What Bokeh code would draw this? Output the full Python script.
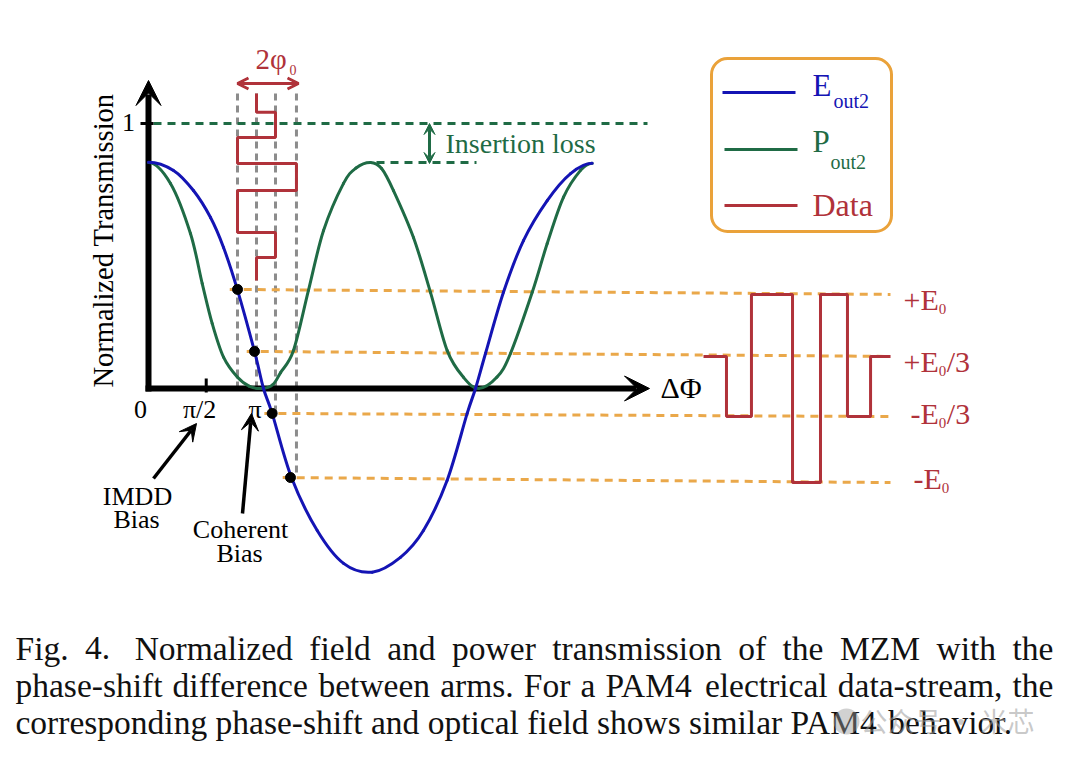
import numpy as np
from bokeh.plotting import figure
from bokeh.models import Arrow, VeeHead, OpenHead, BoxAnnotation, Range1d
from bokeh.embed import file_html
from bokeh.resources import INLINE
from bokeh.core.properties import value

# ---------------- data ----------------
# normalized field E_out2 vs phase-shift difference (units of pi)
e_phase = [0.0, 0.225, 0.405, 0.559, 0.676, 0.80, 0.955, 1.036, 1.114, 1.288, 1.52, 1.757,
           2.015, 2.27, 2.477, 2.69, 2.871, 2.946, 3.036, 3.198, 3.378, 3.592, 3.802, 3.997]
e_field = [0.854, 0.823, 0.747, 0.645, 0.532, 0.374, 0.140, 0.0, -0.094, -0.336, -0.536, -0.660,
           -0.693, -0.637, -0.536, -0.347, -0.094, 0.0, 0.132, 0.363, 0.558, 0.709, 0.811, 0.850]
# normalized power P_out2
p_phase = [0.0, 0.198, 0.378, 0.484, 0.574, 0.676, 0.80, 0.91, 1.02, 1.12, 1.19, 1.306, 1.441,
           1.577, 1.757, 1.87, 2.0, 2.10, 2.207, 2.387, 2.541, 2.691, 2.838, 2.973, 3.14, 3.261,
           3.457, 3.592, 3.739, 3.892, 3.997]
p_power = [0.853, 0.774, 0.585, 0.396, 0.245, 0.118, 0.043, 0.008, 0.0, 0.015, 0.060, 0.143, 0.370,
           0.596, 0.774, 0.832, 0.853, 0.830, 0.747, 0.570, 0.362, 0.143, 0.042, 0.0, 0.043, 0.132,
           0.363, 0.547, 0.722, 0.823, 0.850]
max_transmission = 1.0
insertion_peak = 0.853

# PAM4 symbols (in units of E0)
data_levels = [1/3, -1/3, 1, -1, 1, -1/3, 1/3]
level_values = [1, 1/3, -1/3, -1]
level_names = [("+E", "0", ""), ("+E", "0", "/3"), ("-E", "0", "/3"), ("-E", "0", "")]
# phase shift driven by each level (units of pi) and field obtained on E_out2
level_phase = [0.802, 0.973, 1.144, 1.333]
dot_phase = [0.802, 0.955, 1.114, 1.279]
dot_field = [0.374, 0.140, -0.094, -0.336]
# optical field levels of the output data
out_field = [0.355, 0.121, -0.106, -0.355]
# symbol boundaries: drive signal (drawn along the vertical), output (along the horizontal)
drive_time = [1.113, 1.042, 0.947, 0.849, 0.747, 0.589, 0.494, 0.408]
out_time = [5.0, 5.207, 5.432, 5.802, 6.054, 6.297, 6.505, 6.685]

tick_phase = [0.0, 0.52, 1.0]
tick_labels = ["0", "π/2", "π"]

caption_lines = [
    "Fig. 4.  Normalized field and power transmission of the MZM with the",
    "phase-shift difference between arms. For a PAM4 electrical data-stream, the",
    "corresponding phase-shift and optical field shows similar PAM4 behavior.",
]

# ---------------- styling ----------------
BLUE = "#1414b4"
GREEN = "#1f6b45"
RED = "#b0323a"
ORANGE = "#eaa84a"
GRAY = "#8c8c8c"
BOX = "#eaa23a"
SERIF = value("Liberation Serif")

W, H = 1080, 766


def X(px):
    return (px - 148.0) / 111.0


def Y(py):
    return (388.0 - py) / 265.0


p = figure(width=W, height=H, x_range=Range1d(X(0), X(W)), y_range=Range1d(Y(H), Y(0)),
           output_backend="svg", toolbar_location=None, min_border=0,
           x_axis_location=None, y_axis_location=None)
p.grid.visible = False
p.outline_line_color = None
p.background_fill_color = "white"


def smooth(xs, ys, color, width):
    pts = np.column_stack([xs, ys]).astype(float)
    n = len(pts)
    first = np.array([2 * pts[0, 0] - pts[1, 0], pts[1, 1]])
    last = np.array([2 * pts[-1, 0] - pts[-2, 0], pts[-2, 1]])
    ext = np.vstack([first, pts, last])
    x0, y0, x1, y1, cx0, cy0, cx1, cy1 = ([] for _ in range(8))
    for i in range(n - 1):
        q0, q1, q2, q3 = ext[i], ext[i + 1], ext[i + 2], ext[i + 3]
        c0 = q1 + (q2 - q0) / 6
        c1 = q2 - (q3 - q1) / 6
        x0.append(q1[0]); y0.append(q1[1]); x1.append(q2[0]); y1.append(q2[1])
        cx0.append(c0[0]); cy0.append(c0[1]); cx1.append(c1[0]); cy1.append(c1[1])
    p.bezier(x0=x0, y0=y0, x1=x1, y1=y1, cx0=cx0, cy0=cy0, cx1=cx1, cy1=cy1,
             line_color=color, line_width=width, line_cap="round")


def txt(px, base, s, size, color="black", align="left", font=SERIF, alpha=1.0):
    """px: x in reference pixels; base: text baseline in reference pixels."""
    p.text(x=[X(px)], y=[Y(base - 0.34 * size)], text=[s], text_font=font,
           text_font_size=value(f"{size}px"), text_color=color, text_align=align,
           text_baseline="middle", text_alpha=alpha)


# ---- gray dashed vertical guides from the drive waveform to the curve ----
for k, ph in enumerate(level_phase):
    bottom = min(0.0, dot_field[k])
    p.line([ph, ph], [drive_time[0], bottom], line_color=GRAY, line_width=3, line_dash="7 5")

# ---- orange dashed lines from curve points to output levels ----
for k in range(4):
    p.line([dot_phase[k] - 0.07, X(890)], [dot_field[k], out_field[k]],
           line_color=ORANGE, line_width=3, line_dash="8 6")

# ---- insertion loss dashed lines ----
p.line([X(153), X(647)], [max_transmission] * 2, line_color=GREEN, line_width=3, line_dash="8 6")
p.line([X(376), X(476)], [insertion_peak] * 2, line_color=GREEN, line_width=3, line_dash="8 6")

# ---- axes (shafts) ----
p.line([X(148), X(148)], [Y(391), Y(94)], line_color="black", line_width=6)
p.line([X(145), X(636)], [0, 0], line_color="black", line_width=6)
p.line([X(140), X(153)], [max_transmission] * 2, line_color="black", line_width=3)
p.line([tick_phase[1]] * 2, [Y(378), Y(392)], line_color="black", line_width=3)
p.add_layout(Arrow(end=VeeHead(size=25, fill_color="black", line_color="black", line_width=1),
                   x_start=X(148), y_start=Y(120), x_end=X(148), y_end=Y(80), line_alpha=0))
p.add_layout(Arrow(end=VeeHead(size=25, fill_color="black", line_color="black", line_width=1),
                   x_start=X(600), y_start=0, x_end=X(649), y_end=0, line_alpha=0))

# ---- curves ----
smooth(p_phase, p_power, GREEN, 3)
smooth(e_phase, e_field, BLUE, 3)

# ---- drive data waveform (phase shift, vertical time) ----
pos = {lv: ph for lv, ph in zip(level_values, level_phase)}
wx, wy = [], []
for i, lv in enumerate(data_levels):
    wx += [pos[lv], pos[lv]]
    wy += [drive_time[i], drive_time[i + 1]]
p.line(wx, wy, line_color=RED, line_width=3)

# ---- output data waveform (field levels, horizontal time) ----
fpos = {lv: f for lv, f in zip(level_values, out_field)}
ox, oy = [], []
for i, lv in enumerate(data_levels):
    ox += [out_time[i], out_time[i + 1]]
    oy += [fpos[lv], fpos[lv]]
p.line(ox, oy, line_color=RED, line_width=3)

# ---- points on the field curve ----
p.scatter(dot_phase, dot_field, size=10, fill_color="black", line_color="black")

# ---- 2phi0 arrow ----
p.add_layout(Arrow(start=OpenHead(size=11, line_color=RED, line_width=3),
                   end=OpenHead(size=11, line_color=RED, line_width=3),
                   x_start=X(237), y_start=Y(83), x_end=X(298), y_end=Y(83),
                   line_color=RED, line_width=3))
txt(255, 68, "2φ", 29, RED)
txt(289, 74, "0", 14, RED)

# ---- insertion loss arrow ----
p.add_layout(Arrow(start=VeeHead(size=11, fill_color=GREEN, line_color=GREEN, line_width=1),
                   end=VeeHead(size=11, fill_color=GREEN, line_color=GREEN, line_width=1),
                   x_start=X(429), y_start=Y(123), x_end=X(429), y_end=Y(163),
                   line_color=GREEN, line_width=3))
txt(445, 153, "Insertion loss", 28, GREEN)

# ---- bias arrows ----
p.add_layout(Arrow(end=VeeHead(size=17, fill_color="black", line_color="black", line_width=1),
                   x_start=X(153), y_start=Y(478), x_end=X(196), y_end=Y(423),
                   line_color="black", line_width=3.5))
p.add_layout(Arrow(end=VeeHead(size=17, fill_color="black", line_color="black", line_width=1),
                   x_start=X(242), y_start=Y(513), x_end=X(251), y_end=Y(413),
                   line_color="black", line_width=3.5))
txt(137, 505, "IMDD", 26, align="center")
txt(136, 528, "Bias", 26, align="center")
txt(240, 538, "Coherent", 26, align="center")
txt(239, 562, "Bias", 26, align="center")

# ---- axis texts ----
txt(128, 131, "1", 26, align="center")
label_dx = [-0.072, -0.06, -0.04]
for ph, lab, dx in zip(tick_phase, tick_labels, label_dx):
    p.text(x=[ph + dx], y=[Y(418 - 0.34 * 26)], text=[lab], text_font=SERIF,
           text_font_size=value("26px"), text_align="center", text_baseline="middle")
p.text(x=[X(660)], y=[Y(387)], text=["ΔΦ"], text_font=SERIF, text_font_size=value("30px"),
       text_align="left", text_baseline="middle")
p.text(x=[X(103)], y=[Y(240)], text=["Normalized Transmission"], text_font=SERIF,
       text_font_size=value("28.5px"), text_align="center", text_baseline="middle", angle=np.pi / 2)

# ---- level labels ----
lab_x = [903, 903, 910, 913]
lab_base = [309, 371, 423, 488]
for (main, sub, tail), lx, lb in zip(level_names, lab_x, lab_base):
    mw = (0.564 if main[0] == "+" else 0.333) * 30 + 0.611 * 30
    txt(lx, lb, main, 30, RED)
    txt(lx + mw, lb + 5, sub, 15, RED)
    if tail:
        txt(lx + mw + 8, lb, tail, 30, RED)

# ---- legend ----
p.add_layout(BoxAnnotation(left=X(711), right=X(891), top=Y(58), bottom=Y(231),
                           border_radius=16, fill_alpha=0, line_color=BOX, line_alpha=1.0,
                           line_width=3))
p.line([X(722), X(795)], [Y(92)] * 2, line_color=BLUE, line_width=3)
p.line([X(724), X(797)], [Y(149)] * 2, line_color=GREEN, line_width=3)
p.line([X(724), X(797)], [Y(205)] * 2, line_color=RED, line_width=3)
txt(812, 96, "E", 31, BLUE)
txt(833, 107, "out2", 20, BLUE)
txt(812, 152, "P", 31, GREEN)
txt(830, 168, "out2", 20, GREEN)
txt(812, 215, "Data", 32, RED)

# ---- caption (justified) ----
CW = {'a': 444, 'b': 500, 'c': 444, 'd': 500, 'e': 444, 'f': 333, 'g': 500, 'h': 500, 'i': 278,
      'j': 278, 'k': 500, 'l': 278, 'm': 778, 'n': 500, 'o': 500, 'p': 500, 'q': 500, 'r': 333,
      's': 389, 't': 278, 'u': 500, 'v': 500, 'w': 722, 'x': 500, 'y': 500, 'z': 444,
      'A': 722, 'B': 667, 'C': 667, 'D': 722, 'E': 611, 'F': 556, 'G': 722, 'H': 722, 'I': 333,
      'J': 389, 'K': 722, 'L': 611, 'M': 889, 'N': 722, 'O': 722, 'P': 556, 'Q': 722, 'R': 667,
      'S': 556, 'T': 611, 'U': 722, 'V': 722, 'W': 944, 'X': 722, 'Y': 722, 'Z': 611,
      ' ': 250, '.': 250, ',': 250, '-': 333}
CAP = 33.5


def tw(s):
    return sum(CW.get(c, 500) for c in s) * CAP / 1000.0


cap_base = [659, 696, 733]
cx, cy, ct = [], [], []
for li, line in enumerate(caption_lines):
    words = line.split()
    extra = [0.0] * len(words)
    if li == 0:
        extra[1] = 8.0  # wider gap after "Fig. 4."
    widths = [tw(w) for w in words]
    if li < 2:
        gap = (1053 - 15 - sum(widths) - sum(extra)) / (len(words) - 1)
    else:
        gap = CW[' '] * CAP / 1000.0
    x = 15.0
    for w, wd, ex in zip(words, widths, extra):
        cx.append(X(x)); cy.append(Y(cap_base[li] - 0.34 * CAP)); ct.append(w)
        x += wd + gap + ex
p.text(x=cx, y=cy, text=ct, text_font=SERIF, text_font_size=value(f"{CAP}px"),
       text_color="#111111", text_align="left", text_baseline="middle")

# ---- watermark ----
p.scatter([X(846)], [Y(721)], size=26, fill_color="#9a9a9a", line_color=None, fill_alpha=0.45)
p.text(x=[X(860)], y=[Y(720)], text=["公众号 · 米芯"], text_font=value("Noto Sans CJK SC"),
       text_font_size=value("27px"), text_color="#9a9a9a", text_alpha=0.55,
       text_align="left", text_baseline="middle")

open("out.html", "w").write(file_html(p, INLINE))
